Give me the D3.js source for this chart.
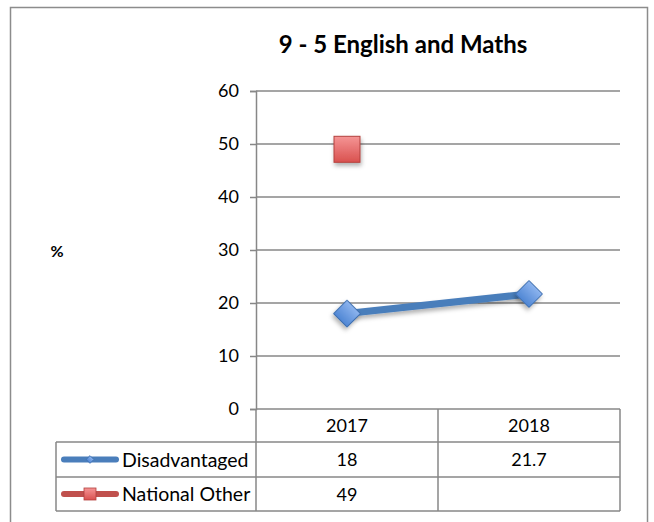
<!DOCTYPE html>
<html>
<head>
<meta charset="utf-8">
<script src="https://cdn.jsdelivr.net/npm/d3@7"></script>
<style>
  body { margin: 0; background: #fff; }
  svg { display: block; font-family: Lato, "Open Sans", sans-serif; }
</style>
</head>
<body>
<svg width="654" height="522"></svg>
<script>
var years = ["2017", "2018"];
var seriesNames = ["Disadvantaged", "National Other"];
var disadvantaged = [18, 21.7];
var nationalOther = [49, null];
var yTicks = [0, 10, 20, 30, 40, 50, 60];

var plotLeft = 256, plotRight = 620, plotTop = 91, plotBottom = 409;

var svg = d3.select("svg");

var defs = svg.append("defs");
var shadow = defs.append("filter").attr("id", "shadow")
  .attr("x", "-50%").attr("y", "-50%").attr("width", "200%").attr("height", "200%");
shadow.append("feDropShadow").attr("dx", 1).attr("dy", 3).attr("stdDeviation", 2)
  .attr("flood-color", "#000").attr("flood-opacity", 0.3);

var blueGrad = defs.append("linearGradient").attr("id", "blueGrad")
  .attr("x1", 0).attr("y1", 0).attr("x2", 0).attr("y2", 1);
blueGrad.append("stop").attr("offset", "0%").attr("stop-color", "#8db4ee");
blueGrad.append("stop").attr("offset", "100%").attr("stop-color", "#4f86d4");

var redGrad = defs.append("linearGradient").attr("id", "redGrad")
  .attr("x1", 0).attr("y1", 0).attr("x2", 0).attr("y2", 1);
redGrad.append("stop").attr("offset", "0%").attr("stop-color", "#f59595");
redGrad.append("stop").attr("offset", "100%").attr("stop-color", "#d9514f");

// outer frame
svg.append("rect")
  .attr("x", 10.5).attr("y", 7.5)
  .attr("width", 637).attr("height", 530)
  .attr("fill", "none").attr("stroke", "#8c8c8c").attr("stroke-width", 1.5);

var xScale = d3.scaleBand().domain(years).range([plotLeft, plotRight]);
var yScale = d3.scaleLinear().domain([0, 60]).range([plotBottom, plotTop]);
var cx = function (d, i) { return xScale(years[i]) + xScale.bandwidth() / 2; };

// title
svg.append("text")
  .attr("x", 403).attr("y", 53)
  .attr("text-anchor", "middle")
  .attr("font-size", 24).attr("font-weight", "bold")
  .text("9 - 5 English and Maths");

// y label
svg.append("text")
  .attr("x", 57).attr("y", 257)
  .attr("text-anchor", "middle")
  .attr("font-size", 16).attr("font-weight", "bold")
  .text("%");

// gridlines
svg.append("g")
  .selectAll("line")
  .data(yTicks.filter(function (d) { return d > 0; }))
  .enter()
  .append("line")
  .attr("x1", plotLeft).attr("x2", plotRight)
  .attr("y1", function (d) { return yScale(d); })
  .attr("y2", function (d) { return yScale(d); })
  .attr("stroke", "#878787").attr("stroke-width", 1.5);

// y axis
var yAxis = d3.axisLeft(yScale).tickValues(yTicks).tickSize(6).tickPadding(11);
var gy = svg.append("g")
  .attr("transform", "translate(" + plotLeft + ",0)")
  .call(yAxis);
gy.select(".domain").attr("stroke", "#878787").attr("stroke-width", 1.5);
gy.selectAll(".tick line").attr("stroke", "#878787").attr("stroke-width", 1.5);
gy.selectAll(".tick text")
  .attr("font-size", 18).attr("fill", "#000")
  .attr("font-family", "Lato, sans-serif");

// data table
var tableLeft = 56;
var rowEdges = [409, 442, 477, 511];
var colEdges = [tableLeft, plotLeft, xScale("2018"), plotRight];
var tbl = svg.append("g").attr("stroke", "#878787").attr("stroke-width", 1.5).attr("fill", "none");
tbl.append("line").attr("x1", plotLeft).attr("x2", plotRight).attr("y1", rowEdges[0]).attr("y2", rowEdges[0]);
[1, 2, 3].forEach(function (i) {
  tbl.append("line").attr("x1", tableLeft).attr("x2", plotRight)
    .attr("y1", rowEdges[i]).attr("y2", rowEdges[i]);
});
tbl.append("line").attr("x1", tableLeft).attr("x2", tableLeft).attr("y1", rowEdges[1]).attr("y2", rowEdges[3]);
[1, 2, 3].forEach(function (i) {
  tbl.append("line").attr("x1", colEdges[i]).attr("x2", colEdges[i])
    .attr("y1", rowEdges[0]).attr("y2", rowEdges[3]);
});

// header year labels
svg.append("g")
  .selectAll("text")
  .data(years)
  .enter()
  .append("text")
  .attr("x", function (d, i) { return cx(d, i); })
  .attr("y", (rowEdges[0] + rowEdges[1]) / 2 + 6.5)
  .attr("text-anchor", "middle")
  .attr("font-size", 18)
  .text(function (d) { return d; });

var rows = [disadvantaged, nationalOther];
rows.forEach(function (vals, r) {
  svg.append("g")
    .selectAll("text")
    .data(vals)
    .enter()
    .append("text")
    .attr("x", cx)
    .attr("y", (rowEdges[r + 1] + rowEdges[r + 2]) / 2 + 6.5)
    .attr("text-anchor", "middle")
    .attr("font-size", 18)
    .text(function (d) { return d === null ? "" : d; });
});

// legend keys inside table
var legendColors = ["#4a7ebb", "#c0504d"];
seriesNames.forEach(function (name, r) {
  var cy = (rowEdges[r + 1] + rowEdges[r + 2]) / 2;
  svg.append("line")
    .attr("x1", 64).attr("x2", 116).attr("y1", cy).attr("y2", cy)
    .attr("stroke", legendColors[r]).attr("stroke-width", 6)
    .attr("stroke-linecap", "round");
  if (r === 0) {
    svg.append("path")
      .attr("d", d3.symbol(d3.symbolSquare, 30)())
      .attr("transform", "translate(90," + cy + ") rotate(45)")
      .attr("fill", "url(#blueGrad)").attr("stroke", "#3d6fb0").attr("stroke-width", 0.8);
  } else {
    svg.append("rect")
      .attr("x", 84).attr("y", cy - 6).attr("width", 12).attr("height", 12)
      .attr("fill", "url(#redGrad)").attr("stroke", "#b3403e").attr("stroke-width", 0.8);
  }
  svg.append("text")
    .attr("x", 122).attr("y", cy + 7)
    .attr("font-size", 19.5)
    .text(name);
});

// Disadvantaged line
var line = d3.line()
  .x(cx)
  .y(function (d) { return yScale(d); });
svg.append("path")
  .datum(disadvantaged)
  .attr("d", line)
  .attr("fill", "none")
  .attr("stroke", "#4a7ebb")
  .attr("stroke-width", 7)
  .attr("filter", "url(#shadow)");

svg.append("g")
  .selectAll("path")
  .data(disadvantaged)
  .enter()
  .append("path")
  .attr("d", d3.symbol(d3.symbolSquare, 360)())
  .attr("transform", function (d, i) {
    return "translate(" + cx(d, i) + "," + yScale(d) + ") rotate(45)";
  })
  .attr("fill", "url(#blueGrad)")
  .attr("stroke", "#3d6fb0")
  .attr("stroke-width", 1)
  .attr("filter", "url(#shadow)");

// National Other markers
svg.append("g")
  .selectAll("rect")
  .data(nationalOther)
  .enter()
  .filter(function (d) { return d !== null; })
  .append("rect")
  .attr("x", function (d, i) { return cx(d, i) - 13; })
  .attr("y", function (d) { return yScale(d) - 13; })
  .attr("width", 26).attr("height", 26)
  .attr("fill", "url(#redGrad)")
  .attr("stroke", "#b3403e")
  .attr("stroke-width", 1)
  .attr("filter", "url(#shadow)");
</script>
</body>
</html>
